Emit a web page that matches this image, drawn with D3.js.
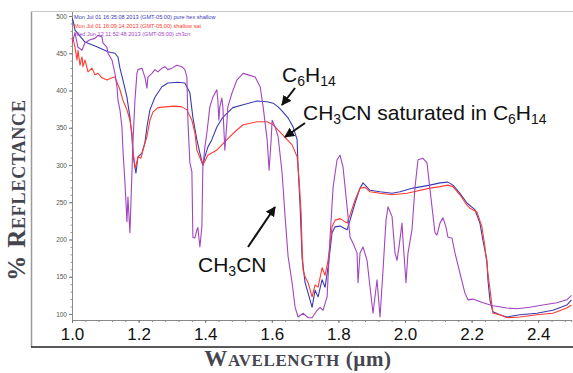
<!DOCTYPE html>
<html>
<head>
<meta charset="utf-8">
<script src="https://cdn.jsdelivr.net/npm/d3@7"></script>
<style>
  body { margin: 0; background: #fff; }
  svg { display: block; }
</style>
</head>
<body>
<div id="chart"></div>
<script>
// spectra: [wavelength (um), % reflectance]
var pureHex = [
  [1.000, 497], [1.003, 494], [1.009, 481], [1.039, 465], [1.078, 458], [1.108, 452],
  [1.129, 450], [1.138, 445], [1.144, 430], [1.153, 414], [1.165, 391], [1.174, 364],
  [1.180, 338], [1.183, 316], [1.189, 297], [1.192, 289], [1.198, 311], [1.210, 316],
  [1.219, 330], [1.225, 351], [1.234, 374], [1.249, 391], [1.270, 405], [1.288, 410],
  [1.318, 411], [1.339, 410], [1.354, 397], [1.363, 364], [1.375, 334], [1.384, 316],
  [1.393, 300], [1.399, 311], [1.408, 324], [1.420, 334], [1.435, 351], [1.453, 364],
  [1.483, 377], [1.514, 381], [1.556, 386], [1.586, 385], [1.604, 383], [1.619, 378],
  [1.634, 371], [1.649, 363], [1.664, 351], [1.676, 334], [1.679, 297], [1.685, 244],
  [1.691, 175], [1.700, 142], [1.709, 128], [1.721, 109], [1.730, 132], [1.739, 123],
  [1.751, 146], [1.760, 136], [1.769, 163], [1.781, 209], [1.790, 217], [1.805, 218],
  [1.826, 213], [1.835, 226], [1.850, 249], [1.865, 269], [1.874, 276], [1.895, 266],
  [1.925, 264], [1.961, 262], [1.985, 264], [2.024, 269], [2.075, 273], [2.105, 276],
  [2.129, 277], [2.144, 273], [2.165, 262], [2.186, 249], [2.210, 240], [2.225, 222],
  [2.234, 199], [2.246, 172], [2.249, 146], [2.255, 119], [2.264, 103], [2.285, 99],
  [2.306, 96], [2.345, 99], [2.396, 101], [2.444, 105], [2.486, 112], [2.500, 119]
];

var shallowSat = [
  [1.000, 465], [1.003, 470], [1.009, 458], [1.015, 441], [1.018, 454], [1.024, 434],
  [1.030, 445], [1.033, 432], [1.039, 441], [1.048, 425], [1.060, 430], [1.069, 421],
  [1.078, 423], [1.090, 417], [1.105, 414], [1.120, 417], [1.129, 418], [1.135, 411],
  [1.144, 401], [1.153, 387], [1.165, 374], [1.174, 360], [1.180, 343], [1.183, 320],
  [1.189, 296], [1.195, 304], [1.198, 311], [1.207, 309], [1.213, 320], [1.225, 338],
  [1.234, 360], [1.243, 371], [1.258, 377], [1.279, 378], [1.309, 379], [1.330, 378],
  [1.345, 374], [1.360, 360], [1.369, 343], [1.375, 320], [1.384, 310], [1.393, 300],
  [1.408, 313], [1.435, 320], [1.465, 334], [1.495, 347], [1.514, 354], [1.556, 358],
  [1.586, 358], [1.604, 354], [1.625, 344], [1.646, 334], [1.661, 327], [1.676, 311],
  [1.682, 280], [1.688, 236], [1.691, 190], [1.694, 159], [1.700, 150], [1.709, 142],
  [1.721, 123], [1.730, 139], [1.739, 136], [1.751, 162], [1.760, 152], [1.769, 172],
  [1.781, 217], [1.790, 226], [1.805, 228], [1.826, 222], [1.835, 233], [1.850, 253],
  [1.865, 269], [1.880, 270], [1.895, 264], [1.925, 262], [1.961, 260], [2.006, 262],
  [2.075, 269], [2.105, 271], [2.129, 273], [2.144, 271], [2.165, 260], [2.186, 246],
  [2.195, 242], [2.216, 237], [2.231, 217], [2.240, 190], [2.249, 155], [2.258, 123],
  [2.264, 101], [2.285, 99], [2.306, 95], [2.345, 96], [2.396, 99], [2.444, 101],
  [2.486, 108], [2.500, 112]
];

var ch3cn = [
  [1.000, 464], [1.009, 477], [1.018, 458], [1.030, 454], [1.039, 464], [1.054, 468],
  [1.069, 470], [1.078, 474], [1.090, 472], [1.093, 464], [1.105, 458], [1.108, 450],
  [1.120, 441], [1.129, 423], [1.135, 405], [1.138, 387], [1.144, 374], [1.150, 351],
  [1.153, 320], [1.159, 276], [1.165, 224], [1.168, 257], [1.174, 209], [1.183, 330],
  [1.189, 387], [1.195, 423], [1.198, 428], [1.210, 430], [1.219, 418], [1.225, 403],
  [1.228, 418], [1.240, 423], [1.249, 428], [1.258, 425], [1.270, 430], [1.279, 432],
  [1.288, 428], [1.300, 430], [1.315, 434], [1.330, 432], [1.339, 428], [1.345, 418],
  [1.348, 360], [1.354, 303], [1.360, 291], [1.363, 203], [1.369, 202], [1.375, 213],
  [1.378, 216], [1.384, 190], [1.390, 217], [1.393, 297], [1.399, 324], [1.405, 343],
  [1.414, 378], [1.423, 391], [1.435, 401], [1.438, 387], [1.441, 360], [1.444, 378],
  [1.450, 390], [1.453, 378], [1.459, 320], [1.465, 356], [1.468, 378], [1.480, 396],
  [1.495, 414], [1.514, 423], [1.529, 421], [1.550, 418], [1.565, 405], [1.574, 378],
  [1.586, 334], [1.592, 293], [1.598, 334], [1.601, 360], [1.610, 351], [1.619, 338],
  [1.631, 289], [1.640, 230], [1.649, 177], [1.661, 142], [1.670, 109], [1.679, 96],
  [1.694, 101], [1.709, 95], [1.721, 95], [1.736, 105], [1.745, 109], [1.754, 105],
  [1.766, 123], [1.775, 203], [1.784, 270], [1.796, 307], [1.805, 313], [1.814, 297],
  [1.826, 244], [1.835, 203], [1.844, 195], [1.856, 182], [1.859, 142], [1.865, 182],
  [1.874, 190], [1.886, 172], [1.895, 136], [1.904, 101], [1.916, 146], [1.925, 96],
  [1.934, 159], [1.943, 226], [1.949, 244], [1.961, 231], [1.970, 182], [1.976, 172],
  [1.982, 190], [1.991, 222], [1.994, 199], [2.003, 142], [2.009, 182], [2.021, 213],
  [2.030, 270], [2.039, 307], [2.054, 309], [2.066, 303], [2.081, 244], [2.090, 209],
  [2.096, 206], [2.105, 222], [2.114, 229], [2.123, 217], [2.129, 203], [2.141, 202],
  [2.150, 182], [2.165, 155], [2.180, 128], [2.189, 119], [2.204, 120], [2.234, 115],
  [2.264, 111], [2.306, 108], [2.336, 107], [2.375, 109], [2.414, 112], [2.456, 115],
  [2.486, 119], [2.500, 125]
];

var xMajorTicks = [1.0, 1.2, 1.4, 1.6, 1.8, 2.0, 2.2, 2.4];
var yMajorTicks = [100, 150, 200, 250, 300, 350, 400, 450, 500];

var legendLabels = [
  "Mon Jul 01 16:35:08 2013 (GMT-05:00) pure hex shallow",
  "Mon Jul 01 16:09:14 2013 (GMT-05:00) shallow sat",
  "Wed Jun 12 11:52:48 2013 (GMT-05:00) ch3cn"
];
var seriesColors = ["#3a3ab4", "#ff3b30", "#a245c0"];

var svgWidth = 573;
var svgHeight = 373;

var svg = d3.select("#chart")
  .append("svg")
  .attr("width", svgWidth)
  .attr("height", svgHeight);

// plot area
var plot = { left: 72, right: 572, top: 12, bottom: 320 };

var xScale = d3.scaleLinear()
  .domain([1.0, 2.5])
  .range([72, 571.5]);

var yScale = d3.scaleLinear()
  .domain([100, 500])
  .range([314, 16]);

// outer frame of the screenshot
svg.append("line")
  .attr("x1", 31.5).attr("x2", 31.5)
  .attr("y1", 11.5).attr("y2", 347)
  .attr("stroke", "#9a9a9a").attr("stroke-width", 1.5);
svg.append("line")
  .attr("x1", 31.5).attr("x2", svgWidth)
  .attr("y1", 11.5).attr("y2", 11.5)
  .attr("stroke", "#c8c8c8").attr("stroke-width", 1);
svg.append("line")
  .attr("x1", 31).attr("x2", svgWidth)
  .attr("y1", 347).attr("y2", 347)
  .attr("stroke", "#222").attr("stroke-width", 1.5);

svg.append("clipPath").attr("id", "clip")
  .append("rect")
  .attr("x", plot.left).attr("y", plot.top)
  .attr("width", plot.right - plot.left)
  .attr("height", plot.bottom - plot.top);

// x axis: minor ticks then labelled majors
var xMinor = d3.range(0, 38).map(function (i) { return 1.0 + i * 0.04; });
svg.append("g")
  .attr("transform", "translate(0," + plot.bottom + ")")
  .call(d3.axisBottom(xScale).tickValues(xMinor).tickSize(2).tickFormat(""))
  .call(function (g) {
    g.select(".domain").attr("stroke", "#888");
    g.selectAll(".tick line").attr("stroke", "#888");
  });

svg.append("g")
  .attr("transform", "translate(0," + plot.bottom + ")")
  .call(d3.axisBottom(xScale).tickValues(xMajorTicks).tickSize(3).tickFormat(d3.format(".1f")))
  .call(function (g) {
    g.select(".domain").remove();
    g.selectAll(".tick line").attr("stroke", "#777");
    g.selectAll(".tick text")
      .attr("y", 20).attr("dy", 0)
      .attr("fill", "#111")
      .attr("font-family", "Liberation Sans, Arial, sans-serif")
      .attr("font-size", "17px");
  });

// y axis
var yMinor = d3.range(100, 510, 10);
svg.append("g")
  .attr("transform", "translate(" + plot.left + ",0)")
  .call(d3.axisLeft(yScale).tickValues(yMinor).tickSize(1.5).tickFormat(""))
  .call(function (g) {
    g.select(".domain").attr("d", "M0.5," + plot.top + "V" + plot.bottom).attr("stroke", "#888");
    g.selectAll(".tick line").attr("stroke", "#999");
  });

svg.append("g")
  .attr("transform", "translate(" + plot.left + ",0)")
  .call(d3.axisLeft(yScale).tickValues(yMajorTicks).tickSize(3).tickPadding(2))
  .call(function (g) {
    g.select(".domain").remove();
    g.selectAll(".tick line").attr("stroke", "#777");
    g.selectAll(".tick text")
      .attr("fill", "#555")
      .attr("font-family", "Liberation Sans, Arial, sans-serif")
      .attr("font-size", "6.5px");
  });

// spectra
var line = d3.line()
  .x(function (d) { return xScale(d[0]); })
  .y(function (d) { return yScale(d[1]); });

var curves = svg.append("g").attr("clip-path", "url(#clip)");
[pureHex, shallowSat, ch3cn].forEach(function (s, i) {
  curves.append("path")
    .datum(s)
    .attr("d", line)
    .attr("fill", "none")
    .attr("stroke", seriesColors[i])
    .attr("stroke-width", 1.1)
    .attr("stroke-linejoin", "round");
});

// little legend in the corner
svg.selectAll(".legendText")
  .data(legendLabels)
  .enter().append("text")
  .attr("class", "legendText")
  .attr("x", 74)
  .attr("y", function (d, i) { return 19 + i * 8.5; })
  .attr("fill", function (d, i) { return seriesColors[i]; })
  .attr("font-family", "Liberation Sans, Arial, sans-serif")
  .attr("font-size", "5.6px")
  .text(function (d) { return d; });

// arrows and labels
svg.append("defs").append("marker")
  .attr("id", "arrow")
  .attr("viewBox", "0 0 10 10")
  .attr("refX", 9).attr("refY", 5)
  .attr("markerWidth", 5).attr("markerHeight", 5)
  .attr("orient", "auto")
  .append("path")
  .attr("d", "M0,0L10,5L0,10z")
  .attr("fill", "#111");

var arrows = [
  [295, 88, 282, 105],
  [305, 123, 285, 137],
  [248, 247, 275, 207]
];
svg.selectAll(".arrow")
  .data(arrows)
  .enter().append("line")
  .attr("x1", function (d) { return d[0]; })
  .attr("y1", function (d) { return d[1]; })
  .attr("x2", function (d) { return d[2]; })
  .attr("y2", function (d) { return d[3]; })
  .attr("stroke", "#111")
  .attr("stroke-width", 2)
  .attr("marker-end", "url(#arrow)");

function chemLabel(x, y, parts) {
  var t = svg.append("text")
    .attr("x", x).attr("y", y)
    .attr("fill", "#111")
    .attr("font-family", "Liberation Sans, Arial, sans-serif")
    .attr("font-size", "21px");
  var shift = 0;
  parts.forEach(function (p) {
    var sub = p[1];
    var dy = sub ? 4 - shift : -shift;
    t.append("tspan")
      .attr("dy", dy)
      .attr("font-size", sub ? "14px" : "21px")
      .text(p[0]);
    shift = sub ? 4 : 0;
  });
}

chemLabel(282, 82, [["C", 0], ["6", 1], ["H", 0], ["14", 1]]);
chemLabel(303, 120, [["CH", 0], ["3", 1], ["CN saturated in C", 0], ["6", 1], ["H", 0], ["14", 1]]);
chemLabel(198, 272, [["CH", 0], ["3", 1], ["CN", 0]]);

// axis titles in small caps
var titleFont = "Liberation Serif, Times New Roman, serif";
var yTitle = svg.append("text")
  .attr("transform", "translate(25,190) rotate(-90)")
  .attr("text-anchor", "middle")
  .attr("fill", "#45454f")
  .attr("font-family", titleFont)
  .attr("font-weight", "bold")
  .attr("letter-spacing", "0.8px");
yTitle.append("tspan").attr("font-size", "25px").text("% R");
yTitle.append("tspan").attr("font-size", "18px").text("EFLECTANCE");

var xTitle = svg.append("text")
  .attr("x", 298).attr("y", 366)
  .attr("text-anchor", "middle")
  .attr("fill", "#45454f")
  .attr("font-family", titleFont)
  .attr("font-weight", "bold")
  .attr("letter-spacing", "0.6px");
xTitle.append("tspan").attr("font-size", "23px").text("W");
xTitle.append("tspan").attr("font-size", "17px").text("AVELENGTH");
xTitle.append("tspan").attr("font-size", "21px").text(" (\u00b5m)");
</script>
</body>
</html>
